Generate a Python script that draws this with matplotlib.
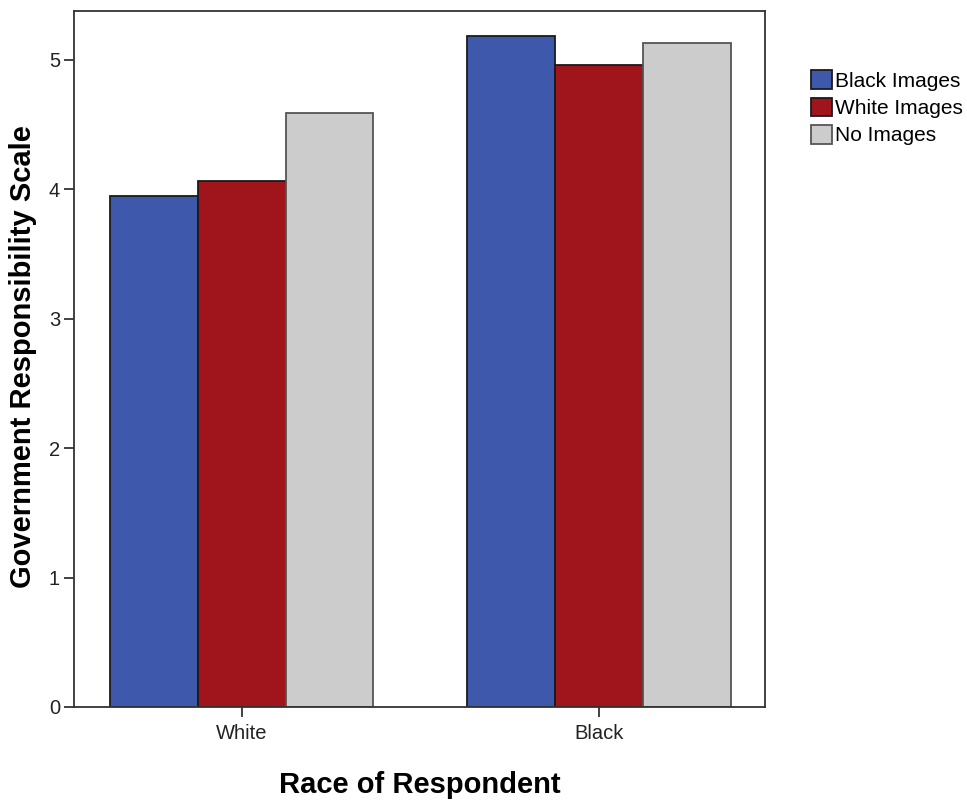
import matplotlib
matplotlib.use("Agg")
import matplotlib.pyplot as plt
import numpy as np

plt.rcParams['font.family'] = ['Liberation Sans', 'DejaVu Sans']

categories = ["White", "Black"]
series_names = ["Black Images", "White Images", "No Images"]
black_images = [3.95, 5.18]
white_images = [4.06, 4.96]
no_images = [4.59, 5.13]
yticks = [0, 1, 2, 3, 4, 5]

colors = ["#3e58ac", "#a0151b", "#cccccc"]
edges = ["#1a1a1a", "#1a1a1a", "#555555"]

fig = plt.figure(figsize=(9.67, 8), dpi=100)
ax = fig.add_axes([74/967, 93/800, (765-74)/967, (707-11)/800])

x = np.arange(len(categories))
w = 0.2458
for i, (vals, name) in enumerate(zip([black_images, white_images, no_images], series_names)):
    ax.bar(x + (i - 1) * w, vals, width=w, color=colors[i], edgecolor=edges[i],
           linewidth=1.3, label=name)

ax.set_xlim(-0.469, 1.464)
ax.set_ylim(0, 5.375)
ax.set_xticks(x)
ax.set_xticklabels(categories, fontsize=14.5)
ax.set_yticks(yticks)
ax.set_yticklabels([str(t) for t in yticks], fontsize=14.5)
ax.tick_params(direction='out', length=7, width=1.3, color='#333333', labelcolor='#222222')
ax.tick_params(axis='x', pad=5)
ax.tick_params(axis='y', pad=3)
for s in ax.spines.values():
    s.set_linewidth(1.3)
    s.set_color('#333333')

ax.set_xlabel("Race of Respondent", fontsize=21, fontweight='bold')
ax.set_ylabel("Government Responsibility Scale", fontsize=21, fontweight='bold')
ax.xaxis.set_label_coords(0.5, -0.092)
ax.yaxis.set_label_coords(-0.053, 0.503)

leg = fig.legend(loc='upper left', bbox_to_anchor=(803/967, 1 - 62/800), frameon=False,
                 fontsize=15, handlelength=1.0, handleheight=1.0, handletextpad=0.15,
                 labelspacing=0.33, borderaxespad=0)

fig.savefig("out.png", dpi=100)
